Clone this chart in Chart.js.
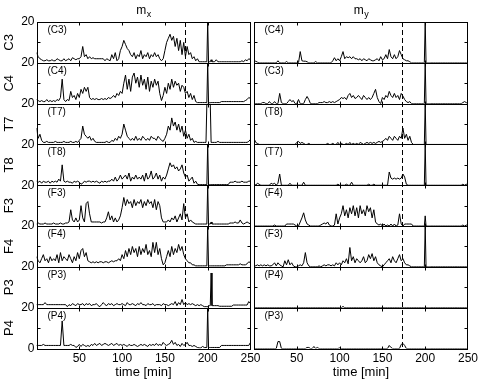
<!DOCTYPE html>
<html><head><meta charset="utf-8">
<script src="https://cdn.jsdelivr.net/npm/chart.js@4.4.1/dist/chart.umd.min.js"></script>
<style>
html,body{margin:0;padding:0;background:#fff;}
#wrap{position:relative;width:481px;height:382px;}
canvas{position:absolute;left:0;top:0;}
</style></head><body>
<div id="wrap"><canvas id="cl" width="481" height="382"></canvas><canvas id="cr" width="481" height="382"></canvas></div>
<script>
// time axis (minutes)
const times = [
0,2,4,6,8,10,12,14,16,18,
20,22,24,26,28,30,32,34,36,38,
40,42,44,46,48,50,52,54,56,58,
60,62,64,66,68,70,72,74,76,78,
80,82,84,86,88,90,92,94,96,98,
100,102,104,106,108,110,112,114,116,118,
120,122,124,126,128,130,132,134,136,138,
140,142,144,146,148,150,152,154,156,158,
160,162,164,166,168,170,172,174,176,178,
180,182,184,186,188,190,192,194,196,198,
199,200,201,202,203,204,205,206,
208,210,212,214,216,218,220,222,224,226,228,
230,232,234,236,238,240,242,244,246,248,250];

const xTickValues = [50,100,150,200,250];
const yTickValues = [0,10,20];
const dashTime = 173;
const leftTitle = 'x', rightTitle = 'y';
const leftLabels = ['C3','C4','T7','T8','F3','F4','P3','P4'];
const rightLabels = ['C4','C3','T8','T7','F4','F3','P4','P3'];

// ---- m_x column ----
const lC3 = [5,3,2,1.5,1,1,1.5,1,1,1.5, 1,1,2,1.5,1,1,2,1,1.5,2, 1,2.5,2,1.5,2,2,3,8,3,4, 2,3,2,2.5,2,2,2,2,2,2,
 1,2,1.5,1,4,2,5,1,2,6, 8,11,9,7,6,4,3,5,2,4, 3,6,2,4,3,5,2,4,3,5, 3,4,2,1,2,6,10,12,14,11,
 13,8,12,6,11,4,10,3,8,4, 5,2,3,1,2,0.5,0.5,0.5,0.5,0.5, 0.5,20,0.5,0.5,0.5,1.5,0.5,0.5,
 0.5,1.5,0.5,0.5,0.5,0.5,0.5,0.5,0.5,0.5,0.5, 0.5,0.5,0.5,0.5,0.5,1,0.5,1.5,1,2,1.5];
const lC4 = [2,1.5,1,1.5,1,1,2,1,1.5,1, 1.5,1,2,1.5,3,12,2,1,2,1.5, 6,3,4,2,5,3,7,5,8,6, 8,3,2,2.5,2,2.5,2,2,2.5,2,
 2.5,2,3,2.5,3,4,3,5,4,6, 5,10,14,7,12,6,13,15,10,13, 8,14,9,12,7,13,6,11,8,12, 9,11,5,1.5,4,8,5,10,7,12,
 8,11,9,10,6,9,8,5,6,3, 5,2,4,1,0.5,0.5,0.5,0.5,0.5,0.5, 0.5,20,0.5,0.5,0.5,0.5,0.5,0.5,
 0.5,0.5,0.5,0.5,1,1,1,1,1,1,1, 1,1,1,1,1,1,1,1.5,2,3,2.5];
const lT7 = [8,3,5,2,1,1,1.5,1,1,1, 1,1.5,1,1,1,1,1.5,1,1,1, 1.5,1,1,1.5,1,2,3,9,5,4, 3,4,2,3,1.5,1,1,1,1,1,
 1,1.5,1,1,2,1.5,3,2,4,3, 5,10,7,4,3,2,3,2,4,2, 3,2,4,3,2,3,2,4,3,3, 2,4,3,2,1.5,3,5,9,7,13,
 9,11,7,10,6,9,4,7,3,5, 2,3,1,1.5,1,1,1,1,1,1, 20,20,20,20,20,1,1,1,
 1,1,1.5,1,1,1,1,1,1,1,1, 1,1,1,1,1,1,1,1,1,1.5,2.5];
const lT8 = [2,1.5,2,1,2,1.5,1.5,2,1,2, 1.5,2,1.5,3,2,10,2,1.5,2,1.5, 1.5,1,2,1.5,2,1.5,0.5,1,2,1.5, 2,2,1.5,2,1.5,2,1.5,1,2,1.5,
 2,1.5,2,2,3,2,4,2,3,5, 3,4,5,3,6,2,4,3,5,3, 4,3,5,2,6,3,4,7,3,4, 6,3,5,2,4,3,5,8,11,9,
 10,8,9,7,8,10,6,4,5,2, 3,4,1,2,0.5,0.3,0.3,0.3,0.3,0.3, 0.3,20,0.3,0.3,0.3,0.3,0.3,0.3,
 0.3,0.3,0.3,0.3,0.3,0.3,0.3,0.3,0.3,1.5,1.5, 1.5,2,1.5,1.5,1.5,2,1.5,1.5,1.5,2,2];
const lF3 = [1,1.5,1,1,1,1.5,1,1,1,1, 1.5,1,1,1,1.5,1,1,1.5,1.5,2, 8,3,2,4,2,3,10,4,2,11, 12,6,2,2,2,2,2,2,1.5,2,
 2,4,7,3,5,2,4,2,3,5, 9,14,10,13,11,12,9,13,10,12, 11,13,9,12,10,13,11,12,9,13, 8,12,10,4,2,2,2,3,2,4,
 3,5,2,4,6,3,11,4,6,2, 3,2,1.5,1,1,1,1,1,1,1, 1,20,1,1,1,2,1,1,
 1,1,1,1,1,1,1,1,1,1.5,1.5, 1.5,2,1.5,1.5,3,1.5,1,1.5,2,1.5,1];
const lF4 = [5,3,2,4,6,3,4,2,5,3, 4,3,6,2,7,3,5,4,3,6, 4,2,5,3,7,4,8,9,5,7, 3,2.5,2,2.5,2,2.5,2,2.5,2.5,2,
 2.5,2.5,2,2.5,3,2.5,3,3,4,3, 6,4,8,5,9,6,10,7,9,5, 10,6,9,7,11,6,8,5,12,7, 12,6,9,4,1,2,5,8,5,10,
 6,9,7,11,8,10,6,4,3,2, 2,1,1,0.5,0.5,0.5,0.5,0.5,0.5,0.5, 0.5,20,0.5,0.5,0.5,0.5,0.5,0.5,
 0.5,0.5,0.5,0.5,0.5,0.5,0.5,1,1,1,1, 1,1,1,1,1.5,1,1,1,1.5,2.5,2];
const lP3 = [1.5,1.5,1.5,1.5,1.5,2.5,1.5,1.5,1.5,1.5, 1.5,1.5,1.5,1.5,1.5,1.5,1.5,1.5,0.5,1.5, 1,2,1.5,1,2,1.5,1.5,2,1,2, 1.5,2,1,1.5,1.5,2,1,0.5,1.5,2.5,
 1.5,1,2,1.5,2,1,1.5,2,1.5,1.5, 2,1.5,1,2.5,1.5,1.5,2,1.5,1,2, 1.5,2.5,1.5,1.5,1,2,1.5,1.5,2,1, 1.5,1.5,1.5,1,2,1.5,1.5,1,1.5,2,
 1.5,3,1,2.5,1.5,4,1.5,2.5,1.5,2, 1.5,2,1.5,1,1.5,1,1.5,1,0.5,0.5, 0.5,0.5,1,1,1,17,1,1,
 1,1,1,0.7,0.7,0.7,0.7,0.7,0.7,0.7,0.7, 1.3,1.3,1.3,1.3,1.3,1.3,1.3,1.3,1.3,3,2];
const lP4 = [1.5,1.5,1.5,1.5,2,1.5,1.5,1.5,1.5,1.5, 1.5,1.5,1.5,1.5,1.5,13.5,1.5,1.5,1.5,1.5, 2,1.5,1.5,0.5,1,2,1,2,1.5,1, 1.5,1,2,1.5,2.5,1.5,2,2.5,1.5,2,
 2.5,2,1.5,2,2.5,1.5,2,2.5,1.5,2, 1.5,2,1.5,1,2,1.5,1.5,2,1.5,1, 1.5,2,1.5,2,1.5,1,2,1.5,2,1.5, 2.5,1.5,2,1.5,3,2,1.5,2,2.5,4,
 2,3,1.5,2,1,2.5,1.5,2,3,1.5, 1.5,1,1.5,1,0.5,0.3,0.3,1,0.5,0.5, 0.5,20,0.5,0.5,0.5,0.5,0.5,0.5,
 0.5,0.5,0.5,0.5,1.5,1.5,1.5,1.5,1.5,1.5,1.5, 1.5,1.5,1.5,1.5,1.5,1.5,1.5,1.5,1.5,1.5,3];

// ---- m_y column ----
const rC4 = [0.5,0.8,0.3,0,0,0,0,0,0,0, 0,0,0,0,1,0,0,0,0,0.6, 0,0,0,0,0,0,0,5.5,1,0.8, 0.8,0.5,0,0,0,0,0.6,0,0,0,
 0,0,0,0,0,0,1,2.5,1,2, 1,3,5.5,2,3,2.5,3,2,3,2, 2,1.5,2,1,2,1.5,1,2,1.5,1, 1,1.5,2,1,3,1.5,2,4,2,6.5,
 3,2,4,2,3,6,4,2,1.5,1, 1,0.5,0,0,0,0,0,0,0,0, 0,20,0,0,0,0,0,0,
 0,0,0,0,0,0,0,0,0,0,0, 0,0,0,0,0,0,0,0,0,0,0];
const rC3 = [0,0,0,0,0,0.5,0.5,0,0,1, 0,0,1,0,0,5,0.5,0,0,0, 1,2,1,1.5,0,0,2,0,0,0, 2,3.5,2,0,0,0,0,0,0.5,0.5,
 0.5,1,0.5,0.5,1,0.5,1,0.5,1,1.5, 2,3,2.5,3,2,4,5,3,4,2.5, 3,4,3,2,4,3,2,3,2,3, 5,7,3,1,0,3,2,4,3,6,
 4,3,5,3,4,2,5,3.7,2,1, 0.5,1,0,0,0,0,0,0,0,0, 0,20,0,0,0,0,0,0,
 0,0,0,0,0,0,0,0,0,0,0, 0,0,0,0,0,0,0,0.5,1,0.5,0];
const rT8 = [3,1,0.5,0,0,0,0,0,0,0, 0,0,0,0,0,0,0,0,0,0, 0,0,0,0,0,1,1.5,0.5,1,0.5, 0,0,0.5,0,0,0,0,0,0,0,
 0,0,0,0.5,0,0,0.5,0,0,1, 0,0.5,0,0,0.5,0,1,0,0.5,0, 0.5,0,1,0.5,0,0.5,1,0.5,1,0.5, 1,0.5,1,1.5,1,1.5,2,3,2,4,
 3,2,4,3,2,4,3,8,3,5, 2,4,1,0,0,0,0,0,0,0, 0,20,0,0,0,0,0,0,
 0,0,0,0,0,0,0,0,0,0,0, 0,0,0,0,0,0,0,0,0,0,0];
const rT7 = [1,0,1,0.5,0,0,0,0,0,0, 1,0.5,1,0,1,5.5,0,0,0,0, 0,1,0,0,0,0,0,0,0,1.5, 0,0,0,0,0,0,0,0,0,0,
 0,0,0,0,0,0,0,0,0,0.5, 0,0,0,0,0.5,0,0,1.5,0,0, 0,0,0,0,0,0,0,0.5,0,0, 0.5,0,0,0,0,0,0,0,0,6.5,
 3.5,3,3.5,3,3.5,3,3.5,5.5,4,0.5, 0,0,0,0,0,0,0,0,0,0, 0,20,0,0,0,0,0,0,
 0,0,0,0,0,0,0,0,0,0,0, 0,0,0,0,0,0,0,0.5,0,0.5,0];
const rF4 = [0,0,0,0,0,0,0,0,0,0, 0,0,0.5,0,0,0,0,0,0,1, 1,1,1,1,0.5,0,0,2,4,6.5, 3,1,0.5,0,0,0,0,0,0,0.5,
 1,1.5,1,2,0.5,0,0,0.5,6,1, 4,6,10,5,8,4,9,6,10,5, 9,4,10,6,8,5,10,7,9,4, 8,2,1,0.5,1,0,1,0,0.5,0,
 1,0,1,0,0.5,6,1,0,1,1, 1,1,1,0,0,0,0,0,0,0, 0,5,0,0,0,0,0,0,
 0,0,0,0,0,0,0,0,0,0,0, 0,0,0,0,0,0,0,0.5,0,0.5,0];
const rF3 = [1,0.5,1,0.5,1,0.5,1,0.5,1,0.5, 0.5,1,2,0.5,2,1,0.5,0,3,1, 3.5,1,2,0.5,0,0,0.5,1,0.5,2, 7,2,0.5,0,0,0,0,0,0.5,0,
 0.5,1,0.5,1,1,0.5,1,0.5,2,1, 2,1,3,2,4,1.5,9.5,3,5,2, 4,3,2,3,5,2,3,6,4,6.5, 3,5,2,1,0.5,0,1,2,3,4,
 2,5,3,2,4,6,3,4,2,1, 1,0.5,0,0,0,0,0,0,0,0, 0,20,0,0,0,0,0,0,
 0,0,0,0,0,0,0,0,0,0,0, 0,0,0,0,0,0,0,0,0,0,0];
const rP4 = [0,0,0,0,0,0,0,0,0,0, 0,0,0,0,0,0,0,0,0,0, 0,0,0,0,0,0,0,0,0,0, 0,0,0,0,0,0,0,0,0,0,
 0,0,0,0,0,0,0,0,0,0, 0,0,0.6,0,0,0,0,0,0,0, 0,0,0,0,0,0,0,0,0,0, 0,0,0,0,0,0,0,0,0,0,
 0,0,0,0,0,0,0,0,0,0, 0,0,0,0,0,0,0,0,0,0, 0,0,0,0,0,0,0,0,
 0,0,0,0,0,0,0,0,0,0,0, 0,0,0,0,0,0,0,0,0,0,0];
const rP3 = [0,0,0,0,0,0,0,0,0,0, 0,0,0,0,3.4,3.4,0,0,0,0, 0,0,0,0,0,0,0,0,0,0, 0,0.5,0.5,0,0,1,0,0.5,0,0,
 0,0,0,0,0,0,0,0,0,0, 0.3,0,0,0,0,0,0,0,0,0, 0,0,0,0,0,0,0,0,0,0, 0,0,0,0,0,0,0,0,0,1.5,
 0.5,0,0,0,0,0,2,2.5,1.5,0, 0,0,0,0,0,0,0,0,0,0, 0,0,0,0,0,0,0,0,
 0,0,0,0,0,0,0,0,0,0,0, 0,0,0,0,0,0,0,0,0,0,0];

const leftSeries = [lC3,lC4,lT7,lT8,lF3,lF4,lP3,lP4];
const rightSeries = [rC4,rC3,rT8,rT7,rF4,rF3,rP4,rP3];

const FONT = "'Liberation Sans', Arial, Helvetica, sans-serif";
Chart.defaults.font.family = FONT;
Chart.defaults.color = '#000';

function makeChart(id, series, labels, isLeft, sub, pad) {
  const scales = {
    x: {
      type: 'linear', position: 'bottom', min: 0, max: 250,
      afterBuildTicks: s => { s.ticks = [0].concat(xTickValues).map(v => ({value: v})); },
      ticks: {autoSkip: false, maxRotation: 0, padding: 3, font: {size: 12},
        callback: v => (v === 0 ? '' : String(v))},
      grid: {display: false, drawTicks: false}, border: {display: false},
      title: {display: true, text: 'time [min]', font: {size: 13}, padding: {top: 0, bottom: 2}},
      afterFit: s => { s.height = 33.5; }
    }
  };
  series.forEach((vals, i) => {
    scales['y' + i] = {
      type: 'linear', position: 'left', stack: 'col', stackWeight: 1, weight: 8 - i,
      min: 0, max: 20,
      afterBuildTicks: s => { s.ticks = yTickValues.map(v => ({value: v})); },
      ticks: {display: isLeft, padding: 2, font: {size: 12},
        callback: v => (v === 0 ? (i === series.length - 1 ? '0' : '') : String(v))},
      grid: {display: false, drawTicks: false}, border: {display: false},
      title: {display: isLeft, text: labels[i], font: {size: 13}, padding: {top: 2, bottom: 0}},
      afterFit: s => { s.width = isLeft ? 36.5 : 0; }
    };
  });
  const datasets = series.map((vals, i) => ({
    data: times.map((t, j) => ({x: t, y: vals[j]})),
    yAxisID: 'y' + i, borderColor: '#000', borderWidth: 1, pointRadius: 0,
    tension: 0, fill: false
  }));
  const frame = {
    id: 'frame',
    afterDraw(chart) {
      const ctx = chart.ctx, xs = chart.scales.x;
      const L = Math.round(xs.left) + 0.5, R = Math.round(xs.right) - 0.5;
      ctx.save();
      ctx.strokeStyle = '#000'; ctx.lineWidth = 1;
      const seg = (x1, y1, x2, y2) => { ctx.beginPath(); ctx.moveTo(x1, y1); ctx.lineTo(x2, y2); ctx.stroke(); };
      const top0 = chart.scales.y0.top, botN = chart.scales['y' + (series.length - 1)].bottom;
      // dashed marker
      const xd = Math.round(xs.getPixelForValue(dashTime)) + 0.5;
      ctx.setLineDash([5, 3]);
      seg(xd, top0, xd, botN);
      ctx.setLineDash([]);
      ctx.fillStyle = '#000';
      ctx.font = '10px ' + FONT;
      ctx.textBaseline = 'middle'; ctx.textAlign = 'left';
      series.forEach((vals, i) => {
        const ys = chart.scales['y' + i];
        const T = Math.round(ys.top) + 0.5, B = Math.round(ys.bottom) + 0.5;
        ctx.strokeRect(L, T, R - L, B - T);
        xTickValues.slice(0, 4).forEach(v => {
          const p = Math.round(xs.getPixelForValue(v)) + 0.5;
          seg(p, T, p, T + 3); seg(p, B, p, B - 3);
        });
        const py = Math.round(ys.getPixelForValue(10)) + 0.5;
        seg(L, py, L + 3, py); seg(R, py, R - 3, py);
        ctx.fillText('(' + labels[i] + ')', L + 10, T + 8);
      });
      // column title m with subscript
      const cx = (xs.left + xs.right) / 2;
      ctx.font = '12px ' + FONT;
      const mw = ctx.measureText('m').width;
      ctx.font = '9px ' + FONT;
      const sw = ctx.measureText(sub).width;
      const x0 = cx - (mw + sw) / 2;
      ctx.textBaseline = 'alphabetic';
      ctx.font = '12px ' + FONT;
      ctx.fillText('m', x0, 13.5);
      ctx.font = '9px ' + FONT;
      ctx.fillText(sub, x0 + mw + 0.5, 16.5);
      ctx.restore();
    }
  };
  return new Chart(document.getElementById(id), {
    type: 'line',
    data: {datasets},
    options: {
      responsive: false, animation: false, devicePixelRatio: 1,
      layout: {padding: pad},
      plugins: {legend: {display: false}, tooltip: {enabled: false}, title: {display: false}},
      scales
    },
    plugins: [frame]
  });
}

makeChart('cl', leftSeries, leftLabels, true, leftTitle, {left: 0, top: 22, right: 230.5, bottom: 0});
makeChart('cr', rightSeries, rightLabels, false, rightTitle, {left: 254, top: 22, right: 13, bottom: 0});
</script>
</body></html>
